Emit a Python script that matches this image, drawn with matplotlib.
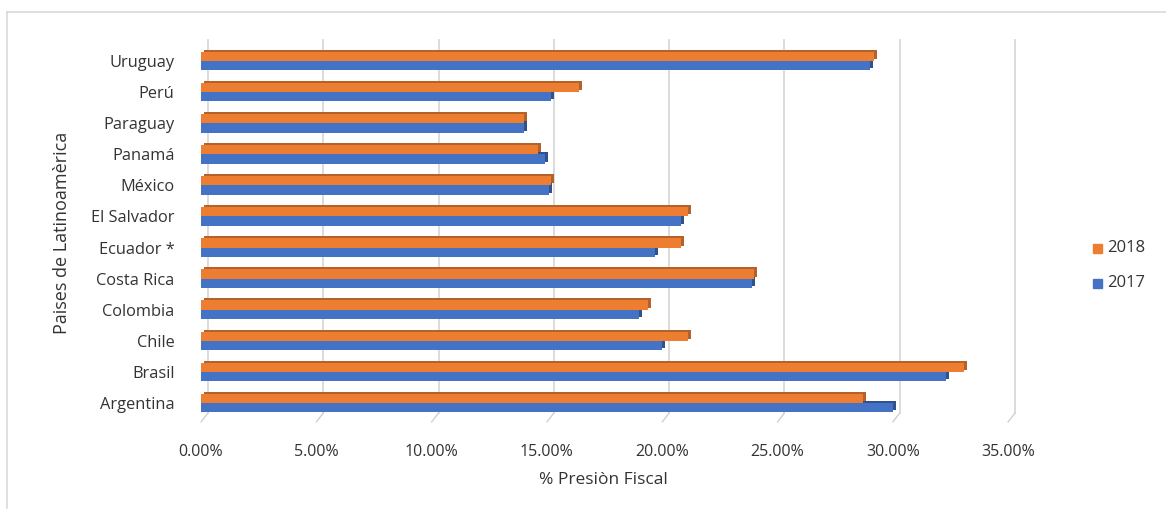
import matplotlib.pyplot as plt
import matplotlib.transforms as mtransforms
from matplotlib.lines import Line2D
from matplotlib.patches import Rectangle

# presion fiscal por pais, de abajo hacia arriba
paises = ['Argentina', 'Brasil', 'Chile', 'Colombia', 'Costa Rica', 'Ecuador *',
          'El Salvador', 'México', 'Panamá', 'Paraguay', 'Perú', 'Uruguay']
valores_2017 = [0.300, 0.323, 0.200, 0.190, 0.239, 0.197,
                0.208, 0.151, 0.149, 0.140, 0.152, 0.290]
valores_2018 = [0.287, 0.331, 0.211, 0.194, 0.240, 0.208,
                0.211, 0.152, 0.146, 0.140, 0.164, 0.292]
ticks_x = [0.0, 0.05, 0.10, 0.15, 0.20, 0.25, 0.30, 0.35]

naranja = '#ED7D31'
naranja_osc = '#B5612A'
azul = '#4472C4'
azul_osc = '#2F528F'
texto = '#333333'
plt.rcParams['font.family'] = ['Open Sans', 'DejaVu Sans']

W, H = 1166, 513
fig = plt.figure(figsize=(W / 100, H / 100), dpi=100)
ax = fig.add_axes([201 / W, 1 - 422 / H, 807 / W, 382 / H])
ax.set_xlim(0, 0.35)
ax.set_ylim(-0.61, 11.675)

# marco del grafico
fig.add_artist(Line2D([7 / W, 7 / W], [1 - 508 / H, 1 - 12 / H], color='#d9d9d9', lw=1.2))
fig.add_artist(Line2D([7 / W, 1.0], [1 - 12 / H, 1 - 12 / H], color='#d9d9d9', lw=1.2))

# pared del fondo: lineas de division desplazadas hacia atras
trans_x = mtransforms.blended_transform_factory(ax.transData, ax.transAxes)
fondo = mtransforms.offset_copy(trans_x, fig=fig, x=7, y=0, units='dots')
suelo_alto = 9 / 382
for t in ticks_x:
    ax.plot([t, t], [suelo_alto, 1.0], transform=fondo, color='#d9d9d9', lw=1.3,
            zorder=1, clip_on=False)
    # diagonal del suelo
    ax.annotate('', xy=(t, 0), xycoords=trans_x, xytext=(7, 9), textcoords='offset pixels',
                arrowprops=dict(arrowstyle='-', color='#d0d0d0', lw=1.0,
                                shrinkA=0, shrinkB=0), annotation_clip=False)

y = list(range(len(paises)))
alto = 0.3
y18 = [v + alto / 2 for v in y]
y17 = [v - alto / 2 for v in y]

# profundidad de las barras (cara superior y lateral)
prof = mtransforms.offset_copy(ax.transData, fig=fig, x=3, y=2, units='dots')
ax.barh(y18, valores_2018, height=alto, color=naranja_osc, transform=prof, zorder=2)
ax.barh(y17, valores_2017, height=alto, color=azul_osc, transform=prof, zorder=2)
# cara frontal
ax.barh(y18, valores_2018, height=alto, color=naranja, zorder=3, label='2018')
ax.barh(y17, valores_2017, height=alto, color=azul, zorder=3, label='2017')

for s in ax.spines.values():
    s.set_visible(False)
ax.set_yticks(y)
ax.set_yticklabels(paises, fontsize=11.8, color=texto)
ax.set_xticks(ticks_x)
ax.set_xticklabels(['{:.2f}%'.format(t * 100) for t in ticks_x], fontsize=11.5, color=texto)
ax.tick_params(axis='y', length=0, pad=19)
ax.tick_params(axis='x', length=0, pad=16)

fig.text(603 / W, 1 - 480 / H, '% Presiòn Fiscal', ha='center', va='center',
         fontsize=12.5, color=texto)
fig.text(62 / W, 1 - 233 / H, 'Paises de Latinoamèrica', ha='center', va='center',
         rotation=90, fontsize=13, color=texto)

# leyenda
for yy, col, lab in [(248, naranja, '2018'), (283, azul, '2017')]:
    fig.add_artist(Rectangle((1093 / W, 1 - (yy + 5) / H), 9 / W, 9 / H,
                             color=col, transform=fig.transFigure))
    fig.text(1107 / W, 1 - yy / H, lab, ha='left', va='center', fontsize=12, color=texto)

fig.savefig('out.png', dpi=100)
